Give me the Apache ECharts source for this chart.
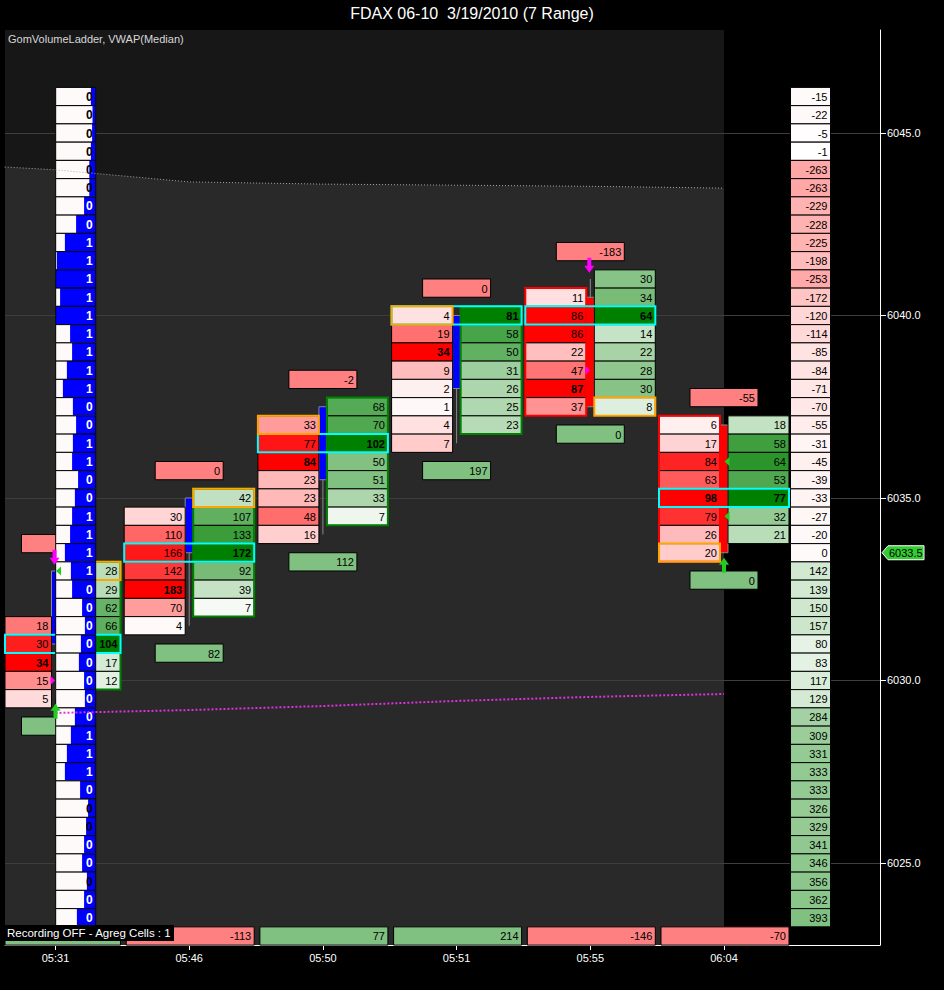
<!DOCTYPE html>
<html><head><meta charset="utf-8">
<script src="https://cdn.jsdelivr.net/npm/echarts@6/dist/echarts.min.js"></script>
<style>html,body{margin:0;padding:0;background:#000;}#c{width:944px;height:990px;}</style>
</head><body><div id="c"></div>
<script>
// ---------------- DATA ----------------
const barTimes = ['05:31', '05:46', '05:50', '05:51', '05:55', '06:04'];
const barOpen  = [6031, 6033.5, 6035.5, 6038, 6040.5, 6037];
const barClose = [6033, 6035, 6037.5, 6040, 6037.5, 6033.5];
const barHigh  = [6033, 6035, 6037.5, 6040, 6041, 6037];
const barLow   = [6029.5, 6031.5, 6034, 6036.5, 6037.5, 6033.5];

// bid (red, left column) volumes, top price first
const bidTop = [6031.5, 6034.5, 6037, 6040, 6040.5, 6037];
const bidVol = [
  [18, 30, 34, 15, 5],
  [30, 110, 166, 142, 183, 70, 4],
  [33, 77, 84, 23, 23, 48, 16],
  [4, 19, 34, 9, 2, 1, 4, 7],
  [11, 86, 86, 22, 47, 87, 37],
  [6, 17, 84, 63, 98, 79, 26, 20]
];
// ask (green, right column) volumes, top price first
const askTop = [6033, 6035, 6037.5, 6040, 6041, 6037];
const askVol = [
  [28, 29, 62, 66, 104, 17, 12],
  [42, 107, 133, 172, 92, 39, 7],
  [68, 70, 102, 50, 51, 33, 7],
  [81, 58, 50, 31, 26, 25, 23],
  [30, 34, 64, 14, 22, 28, 30, 8],
  [18, 58, 64, 53, 77, 32, 21]
];
const pocPrice   = [6031, 6033.5, 6036.5, 6040, 6040, 6035];
const openSide   = ['ask', 'ask', 'bid', 'bid', 'ask', 'bid'];
const openPrice  = [6033, 6035, 6037, 6040, 6037.5, 6033.5];
// null = value hidden in the reference (box colour only)
const deltaTop    = [null, 0, -2, 0, -183, -55];
const deltaBottom = [null, 82, 112, 197, 0, 0];
const barDelta    = [null, -113, 77, 214, -146, -70];
const barDeltaPositive = [true, false, true, true, false, false];

// ladders (price levels from top)
const ladderTop = 6046;
const leftLadderVal = [0,0,0,0,0,0,0,0, 1,1,1,1,1,1,1,1,1, 0,0,1,1,0,0,1,1,1,1, 0,0,0,0,0,0,0,0, 1,1,1, 0,0,0,0,0,0,0,0];
const leftLadderFill = [0.12,0.08,0.09,0.12,0.16,0.16,0.29,0.49, 0.77,0.97,1.0,0.89,1.0,0.64,0.59,0.72,0.82,
  0.57,0.49,0.57,0.59,0.44,0.52,0.59,0.64,0.77,0.62, 0.59,0.34,0.27,0.37,0.42,0.29,0.27,0.52,
  0.62,0.72,0.77, 0.39,0.19,0.24,0.29,0.34,0.22,0.29,0.47];
const rightLadderVal = [-15,-22,-5,-1,-263,-263,-229,-228,-225,-198,-253,-172,-120,-114,-85,-84,-71,-70,-55,-31,-45,-39,-33,-27,-20,0,
  142,139,150,157,80,83,117,129,284,309,331,333,333,326,329,341,346,356,362,393];

// VWAP lines
const vwapUpperX = [-0.38, 0, 1, 2, 3, 4, 5];
const vwapUpperY = [6044.07, 6043.99, 6043.66, 6043.6, 6043.57, 6043.54, 6043.49];
const vwapMedX = [0, 1, 2, 3, 4, 5];
const vwapMedY = [6029.11, 6029.19, 6029.3, 6029.44, 6029.55, 6029.63];

// markers
const downArrows = [0, 4];          // magenta arrows above bar high
const upArrows = [0, 5];            // green arrows below bar low
const leftTriBar = [0, 5, 5];  const leftTriPrice = [6033, 6036, 6034.5];
const rightTriBar = [0, 4];    const rightTriPrice = [6030, 6038.5];
const lastPrice = 6033.5;
const yTicks = [6025, 6030, 6035, 6040, 6045];

// ---------------- LAYOUT ----------------
const FONT = '"Liberation Sans", Arial, sans-serif';
const Y_MIN = 6022.753, Y_MAX = 6047.822;
const X_MIN = -0.3777, X_MAX = 6.1668;
const LEFT_LADDER_X = 0.151, RIGHT_LADDER_X = 5.647, LADDER_W = 40;
const LAST = barTimes.length - 1;

function rowEdges(api, x, price) {
  return [api.coord([x, price + 0.25])[1], api.coord([x, price - 0.25])[1]];
}
function clipX(params, x0, x1) {
  const cs = params.coordSys;
  return [Math.max(x0, cs.x), Math.min(x1, cs.x + cs.width)];
}
function bidColor(t) { const g = Math.round(255 * (1 - t)); return `rgb(255,${g},${g})`; }
function askColor(t) { const a = Math.round(255 * (1 - t)), b = Math.round(255 - 127 * t); return `rgb(${a},${b},${a})`; }
function ladderColor(v, maxNeg, maxPos) {
  if (v < 0) { const t = -v / maxNeg, g = Math.round(255 - 89 * t); return `rgb(255,${g},${g})`; }
  if (v > 0) { const t = v / maxPos; return `rgb(${Math.round(255 - 127 * t)},${Math.round(255 - 63 * t)},${Math.round(255 - 127 * t)})`; }
  return '#fffafa';
}
function txt(text, x, y, align, size, weight, color) {
  return { type: 'text', style: { text: text, x: x, y: y, align: align, verticalAlign: 'middle',
    fontSize: size, fontFamily: FONT, fontWeight: weight || 'normal', fill: color || '#000' } };
}

// build cell list
const cells = [];
for (let b = 0; b < barTimes.length; b++) {
  const bm = Math.max(...bidVol[b]), am = Math.max(...askVol[b]);
  bidVol[b].forEach((v, k) => cells.push({ bar: b, side: 'bid', price: bidTop[b] - 0.5 * k, v: v, t: v / bm, bold: v === bm }));
  askVol[b].forEach((v, k) => cells.push({ bar: b, side: 'ask', price: askTop[b] - 0.5 * k, v: v, t: v / am, bold: v === am }));
}
function colX(cx, side) { return side === 'bid' ? [cx - 65, cx - 4] : [cx + 4, cx + 65]; }

const ladderRows = [];
leftLadderVal.forEach((v, k) => ladderRows.push({ side: 'L', price: ladderTop - 0.5 * k, v: v, f: leftLadderFill[k] }));
const maxNeg = Math.max(...rightLadderVal.map(v => -v)), maxPos = Math.max(...rightLadderVal);
rightLadderVal.forEach((v, k) => ladderRows.push({ side: 'R', price: ladderTop - 0.5 * k, v: v }));

const chart = echarts.init(document.getElementById('c'), null, { renderer: 'svg' });

const option = {
  animation: false,
  backgroundColor: '#000',
  grid: { left: 5, right: 64, top: 30, bottom: 45, containLabel: false },
  xAxis: {
    type: 'value', min: X_MIN, max: X_MAX,
    axisLine: { show: true, onZero: false, lineStyle: { color: '#fff', width: 1 } },
    axisTick: { show: true, customValues: barTimes.map((t, i) => i), length: 5, lineStyle: { color: '#fff' } },
    axisLabel: { show: true, customValues: barTimes.map((t, i) => i), formatter: v => barTimes[Math.round(v)] || '',
      color: '#fff', fontSize: 11, fontFamily: FONT, margin: 7 },
    splitLine: { show: false }
  },
  yAxis: {
    type: 'value', position: 'right', min: Y_MIN, max: Y_MAX,
    axisLine: { show: true, onZero: false, lineStyle: { color: '#fff', width: 1 } },
    axisTick: { show: true, customValues: yTicks, length: 6, lineStyle: { color: '#fff' } },
    axisLabel: { show: true, customValues: yTicks, formatter: v => Number(v).toFixed(1),
      color: '#fff', fontSize: 11, fontFamily: FONT, margin: 7 },
    splitLine: { show: false }
  },
  graphic: [
    { type: 'text', left: 'center', top: 5, style: { text: 'FDAX 06-10  3/19/2010 (7 Range)', fill: '#fff', fontSize: 16, fontFamily: FONT } },
    { type: 'text', left: 8, top: 33, z: 100, style: { text: 'GomVolumeLadder, VWAP(Median)', fill: '#d8d8d8', fontSize: 11, fontFamily: FONT } },
    { type: 'rect', left: 4, top: 925, z: 100, shape: { width: 170, height: 16 }, style: { fill: '#000' } },
    { type: 'text', left: 7, top: 927, z: 101, style: { text: 'Recording OFF - Agreg Cells : 1', fill: '#fff', fontSize: 11.5, fontFamily: FONT } }
  ],
  series: [
    // dark background over bar region
    { type: 'custom', z: 1, silent: true, data: [[X_MIN, Y_MAX]],
      renderItem: (params, api) => {
        const a = api.coord([X_MIN, Y_MAX]), b = api.coord([LAST, Y_MIN]);
        return { type: 'rect', shape: { x: a[0], y: a[1], width: b[0] - a[0], height: b[1] - a[1] }, style: { fill: '#171717' } };
      } },
    // band area
    { type: 'line', z: 2, silent: true, symbol: 'none', data: vwapUpperX.map((x, i) => [x, vwapUpperY[i]]),
      lineStyle: { width: 0, opacity: 0 }, areaStyle: { color: '#292929', opacity: 1, origin: 'start' } },
    // grid lines
    { type: 'custom', z: 3, silent: true, data: yTicks.map(v => [X_MIN, v]),
      renderItem: (params, api) => {
        const a = api.coord([X_MIN, api.value(1)]), b = api.coord([X_MAX, api.value(1)]);
        const y = Math.round(a[1]) + 0.5;
        return { type: 'line', shape: { x1: a[0], y1: y, x2: b[0], y2: y }, style: { stroke: '#3e3e3e', lineWidth: 1 } };
      } },
    // candles
    { type: 'custom', z: 4, silent: true, data: barTimes.map((t, i) => [i, barHigh[i], barLow[i], barOpen[i], barClose[i]]),
      renderItem: (params, api) => {
        const i = api.value(0);
        const hi = api.coord([i, api.value(1)]), lo = api.coord([i, api.value(2)]);
        const o = api.coord([i, api.value(3)]), c = api.coord([i, api.value(4)]);
        const cx = hi[0];
        const up = api.value(4) > api.value(3);
        return { type: 'group', children: [
          { type: 'line', shape: { x1: cx, y1: hi[1], x2: cx, y2: lo[1] }, style: { stroke: '#8a8a8a', lineWidth: 1 } },
          { type: 'rect', shape: { x: cx - 4, y: Math.min(o[1], c[1]), width: 8, height: Math.abs(o[1] - c[1]) },
            style: { fill: up ? '#0000ff' : '#ff0000', stroke: '#8a8a8a', lineWidth: 1 } }
        ] };
      } },
    // volume cells
    { type: 'custom', z: 5, silent: true, data: cells.map((c, i) => [c.bar, c.price, i]),
      renderItem: (params, api) => {
        const c = cells[api.value(2)];
        const cx = api.coord([c.bar, c.price])[0];
        const [t, b] = rowEdges(api, c.bar, c.price);
        let [x0, x1] = colX(cx, c.side);
        const tx = x1 - 3;
        [x0, x1] = clipX(params, x0, x1);
        return { type: 'group', children: [
          { type: 'rect', shape: { x: x0, y: t, width: x1 - x0, height: b - t },
            style: { fill: c.side === 'bid' ? bidColor(c.t) : askColor(c.t), stroke: '#000', lineWidth: 1 } },
          txt(String(c.v), tx, (t + b) / 2 + 0.5, 'right', 11, c.bold ? 'bold' : 'normal', '#000')
        ] };
      } },
    // column borders, POC (cyan) and open (orange) highlights
    { type: 'custom', z: 6, silent: true, data: barTimes.map((t, i) => [i, barHigh[i]]),
      renderItem: (params, api) => {
        const i = api.value(0);
        const cx = api.coord([i, barHigh[i]])[0];
        const up = barClose[i] > barOpen[i];
        const side = up ? 'ask' : 'bid';
        const top = up ? askTop[i] : bidTop[i];
        const n = up ? askVol[i].length : bidVol[i].length;
        const ch = [];
        let [x0, x1] = clipX(params, ...colX(cx, side));
        const y0 = api.coord([i, top + 0.25])[1], y1 = api.coord([i, top - 0.5 * (n - 1) - 0.25])[1];
        ch.push({ type: 'rect', shape: { x: x0, y: y0, width: x1 - x0, height: y1 - y0 },
          style: { fill: 'none', stroke: up ? '#008000' : '#ff0000', lineWidth: 2 } });
        const [pt, pb] = rowEdges(api, i, pocPrice[i]);
        const [px0, px1] = clipX(params, cx - 65, cx + 65);
        ch.push({ type: 'rect', shape: { x: px0, y: pt, width: px1 - px0, height: pb - pt },
          style: { fill: 'none', stroke: '#00ffff', lineWidth: 2 } });
        const [ot, ob] = rowEdges(api, i, openPrice[i]);
        const [ox0, ox1] = clipX(params, ...colX(cx, openSide[i]));
        ch.push({ type: 'rect', shape: { x: ox0, y: ot, width: ox1 - ox0, height: ob - ot },
          style: { fill: 'none', stroke: '#ffa500', lineWidth: 2 } });
        return { type: 'group', children: ch };
      } },
    // delta boxes above / below bars and bar delta row
    { type: 'custom', z: 7, silent: true, data: barTimes.map((t, i) => [i, barHigh[i]]),
      renderItem: (params, api) => {
        const i = api.value(0);
        const cx = api.coord([i, barHigh[i]])[0];
        const ch = [];
        const box = (price, v, fill, xa, xb) => {
          const [t, b] = rowEdges(api, i, price);
          const tx = cx + xb - 3;
          const [x0, x1] = clipX(params, cx + xa, cx + xb);
          ch.push({ type: 'rect', shape: { x: x0, y: t, width: x1 - x0, height: b - t }, style: { fill: fill, stroke: '#000', lineWidth: 1 } });
          if (v !== null) ch.push(txt(String(v), tx, (t + b) / 2 + 0.5, 'right', 11, 'normal', '#000'));
        };
        box(barHigh[i] + 0.75, deltaTop[i], '#ff8080', -34, 34);
        box(barLow[i] - 0.75, deltaBottom[i], '#80c080', -34, 34);
        box(6023.0, barDelta[i], barDeltaPositive[i] ? '#80c080' : '#ff8080', -63, 65);
        return { type: 'group', children: ch };
      } },
    // ladders
    { type: 'custom', z: 8, silent: true, data: ladderRows.map((r, i) => [r.side === 'L' ? LEFT_LADDER_X : RIGHT_LADDER_X, r.price, i]),
      renderItem: (params, api) => {
        const r = ladderRows[api.value(2)];
        const p = api.coord([api.value(0), r.price]);
        const [t, b] = rowEdges(api, api.value(0), r.price);
        const x0 = p[0] - LADDER_W / 2, x1 = p[0] + LADDER_W / 2;
        if (r.side === 'L') {
          const bw = LADDER_W * r.f;
          return { type: 'group', children: [
            { type: 'rect', shape: { x: x0, y: t, width: LADDER_W, height: b - t }, style: { fill: '#fffafa' } },
            { type: 'rect', shape: { x: x1 - bw, y: t, width: bw, height: b - t }, style: { fill: '#0000ff' } },
            { type: 'rect', shape: { x: x0, y: t, width: LADDER_W, height: b - t }, style: { fill: 'none', stroke: '#000', lineWidth: 1 } },
            txt(String(r.v), x1 - 3, (t + b) / 2 + 0.5, 'right', 12, 'bold', r.f >= 0.25 ? '#fff' : '#000')
          ] };
        }
        return { type: 'group', children: [
          { type: 'rect', shape: { x: x0, y: t, width: LADDER_W, height: b - t }, style: { fill: ladderColor(r.v, maxNeg, maxPos), stroke: '#000', lineWidth: 1 } },
          txt(String(r.v), x1 - 3, (t + b) / 2 + 0.5, 'right', 11, 'normal', '#000')
        ] };
      } },
    // VWAP upper line (dotted)
    { type: 'line', z: 9, silent: true, symbol: 'none', data: vwapUpperX.map((x, i) => [x, vwapUpperY[i]]),
      lineStyle: { color: '#a8a8a8', width: 1, type: [1, 2] } },
    // VWAP median line (magenta dotted)
    { type: 'line', z: 9, silent: true, symbol: 'none', data: vwapMedX.map((x, i) => [x, vwapMedY[i]]),
      lineStyle: { color: '#e030e0', width: 2, type: [2, 2] } },
    // markers
    { type: 'custom', z: 10, silent: true, data: [[0, 0]],
      renderItem: (params, api) => {
        const ch = [];
        downArrows.forEach(i => {
          const p = api.coord([i, barHigh[i] + 0.25]); const x = p[0] - 1, y = p[1] + 3;
          ch.push({ type: 'polygon', shape: { points: [[x, y], [x - 5, y - 7], [x - 2, y - 7], [x - 2, y - 15], [x + 2, y - 15], [x + 2, y - 7], [x + 5, y - 7]] }, style: { fill: '#ff00ff' } });
        });
        upArrows.forEach(i => {
          const p = api.coord([i, barLow[i] - 0.25]); const x = p[0], y = p[1] - 4;
          ch.push({ type: 'polygon', shape: { points: [[x, y], [x - 5, y + 7], [x - 2, y + 7], [x - 2, y + 15], [x + 2, y + 15], [x + 2, y + 7], [x + 5, y + 7]] }, style: { fill: '#22cc22' } });
        });
        leftTriBar.forEach((b, k) => {
          const p = api.coord([b, leftTriPrice[k]]);
          ch.push({ type: 'polygon', shape: { points: [[p[0] + 0.5, p[1]], [p[0] + 5.5, p[1] - 4.5], [p[0] + 5.5, p[1] + 4.5]] }, style: { fill: '#22cc22' } });
        });
        rightTriBar.forEach((b, k) => {
          const p = api.coord([b, rightTriPrice[k]]);
          ch.push({ type: 'polygon', shape: { points: [[p[0] - 0.5, p[1]], [p[0] - 5, p[1] - 4.5], [p[0] - 5, p[1] + 4.5]] }, style: { fill: '#ff00ff' } });
        });
        return { type: 'group', children: ch };
      } },
    // last price marker on the axis
    { type: 'custom', z: 11, silent: true, clip: false, data: [[X_MAX, lastPrice]],
      renderItem: (params, api) => {
        const p = api.coord([X_MAX, api.value(1)]); const x = p[0], y = p[1];
        return { type: 'group', children: [
          { type: 'polygon', shape: { points: [[x + 2, y], [x + 8, y - 7], [x + 44, y - 7], [x + 44, y + 7], [x + 8, y + 7]] }, style: { fill: '#33cc33', stroke: '#fff', lineWidth: 1 } },
          txt(api.value(1).toFixed(1), x + 9, y + 0.5, 'left', 11, 'normal', '#000')
        ] };
      } }
  ]
};
chart.setOption(option);
</script>
</body></html>
